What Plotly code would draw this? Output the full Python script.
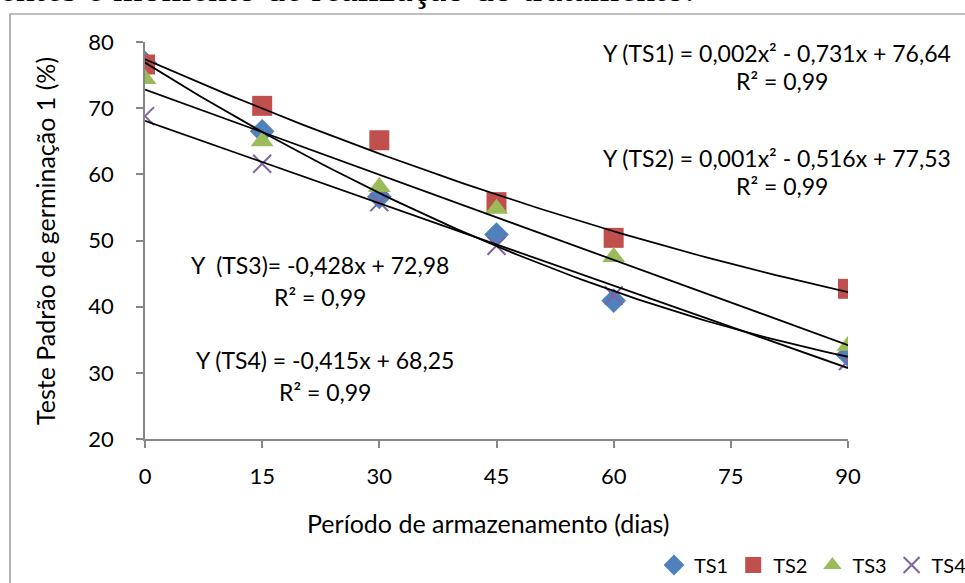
import numpy as np
import plotly.graph_objects as go

# ---- data ----
days = [0, 15, 30, 45, 60, 90]
ts1 = [76.8, 66.5, 56.6, 50.9, 40.9, 32.7]
ts2 = [76.6, 70.35, 65.15, 55.8, 50.4, 42.7]
ts3 = [74.4, 65.0, 58.1, 54.8, 47.5, 34.1]
ts4 = [68.8, 61.6, 55.8, 49.2, 41.7, 31.8]
series_names = ["TS1", "TS2", "TS3", "TS4"]
trend_degree = [2, 2, 1, 1]
x_ticks = [0, 15, 30, 45, 60, 75, 90]
y_ticks = [20, 30, 40, 50, 60, 70, 80]
equations = [
    "Y (TS1) = 0,002x² - 0,731x + 76,64",
    "Y (TS2) = 0,001x² - 0,516x + 77,53",
    "Y  (TS3)= -0,428x + 72,98",
    "Y (TS4) = -0,415x + 68,25",
]
r2_text = "R² = 0,99"

# ---- style ----
W, H = 965, 583
L, R, T, B = 145, 117, 42, 144
PW, PH = W - L - R, H - T - B
FONT = "Lato, Carlito, Calibri, sans-serif"
colors = ["#4F81BD", "#C0504D", "#9BBB59", "#8064A2"]
symbols = ["diamond", "square", "triangle-up", "x-thin"]
sizes = [19, 20, 20, 18]
AX = "#868686"


def px(x):
    return (x - L) / PW


def py(y):
    return (H - B - y) / PH


fig = go.Figure()
all_series = [ts1, ts2, ts3, ts4]
for name, ys, c, s, sz in zip(series_names, all_series, colors, symbols, sizes):
    mk = dict(color=c, size=sz, symbol=s)
    if s == "x-thin":
        mk["line"] = dict(color=c, width=2)
    fig.add_trace(go.Scatter(x=days, y=ys, mode="markers", name=name, marker=mk))

xs = np.linspace(0, 90, 91)
for ys, deg in zip(all_series, trend_degree):
    coef = np.polyfit(days, ys, deg)
    fig.add_trace(go.Scatter(x=xs, y=np.polyval(coef, xs), mode="lines",
                             line=dict(color="black", width=1.8),
                             showlegend=False, hoverinfo="skip"))

ann = []
# equation labels (pixel centers)
eq_pos = [(777, 53, 782, 81), (777, 158, 782, 186), (320, 265, 320, 297), (325, 360, 325, 392)]
for eq, (ex, ey, rx, ry) in zip(equations, eq_pos):
    ann.append(dict(text=eq, x=px(ex), y=py(ey), xref="paper", yref="paper",
                    showarrow=False, xanchor="center", yanchor="middle",
                    font=dict(size=23, color="black", family=FONT)))
    ann.append(dict(text=r2_text, x=px(rx), y=py(ry), xref="paper", yref="paper",
                    showarrow=False, xanchor="center", yanchor="middle",
                    font=dict(size=23, color="black", family=FONT)))
# axis titles
ann.append(dict(text="Período de armazenamento (dias)", x=px(488), y=py(523),
                xref="paper", yref="paper", showarrow=False, xanchor="center",
                yanchor="middle", font=dict(size=25, color="black", family=FONT)))
ann.append(dict(text="Teste Padrão de germinação 1 (%)", x=px(45), y=py(241),
                xref="paper", yref="paper", showarrow=False, xanchor="center",
                yanchor="middle", textangle=-90,
                font=dict(size=25, color="black", family=FONT)))
# cut-off caption above the chart
ann.append(dict(text="entes e momento de realização do tratamento.", x=px(-3), y=py(11),
                xref="paper", yref="paper", showarrow=False, xanchor="left",
                yanchor="bottom", font=dict(size=38, color="black",
                                            family="Liberation Serif, Times New Roman, serif")))

fig.update_layout(
    width=W, height=H,
    margin=dict(l=L, r=R, t=T, b=B, autoexpand=False),
    paper_bgcolor="white", plot_bgcolor="white",
    font=dict(family=FONT, color="black", size=20),
    annotations=ann,
    shapes=[dict(type="rect", xref="paper", yref="paper",
                 x0=px(10), x1=px(975), y0=py(600), y1=py(14),
                 line=dict(color="#7f7f7f", width=1.2), layer="below")],
    legend=dict(orientation="h", x=px(654), xanchor="left", y=py(565), yanchor="middle",
                font=dict(size=20, color="black", family=FONT),
                bgcolor="rgba(0,0,0,0)", itemwidth=30, tracegroupgap=0),
    showlegend=True,
)
fig.update_xaxes(range=[0, 90], tickvals=x_ticks, ticktext=[str(v) for v in x_ticks],
                 showgrid=False, zeroline=False, showline=True, linecolor=AX, linewidth=1.5,
                 ticks="outside", ticklen=7, tickcolor=AX, tickwidth=1.5, automargin=False,
                 tickfont=dict(size=22, color="black", family=FONT), ticklabelstandoff=10)
fig.update_yaxes(range=[20, 80], tickvals=y_ticks, ticktext=[str(v) for v in y_ticks],
                 showgrid=False, zeroline=False, showline=True, linecolor=AX, linewidth=1.5,
                 ticks="outside", ticklen=7, tickcolor=AX, tickwidth=1.5, automargin=False,
                 tickfont=dict(size=22, color="black", family=FONT), ticklabelstandoff=18)

fig.write_html("out.html", config={"displayModeBar": False},
               post_script="document.body.style.margin='0';document.body.style.overflow='hidden';")
